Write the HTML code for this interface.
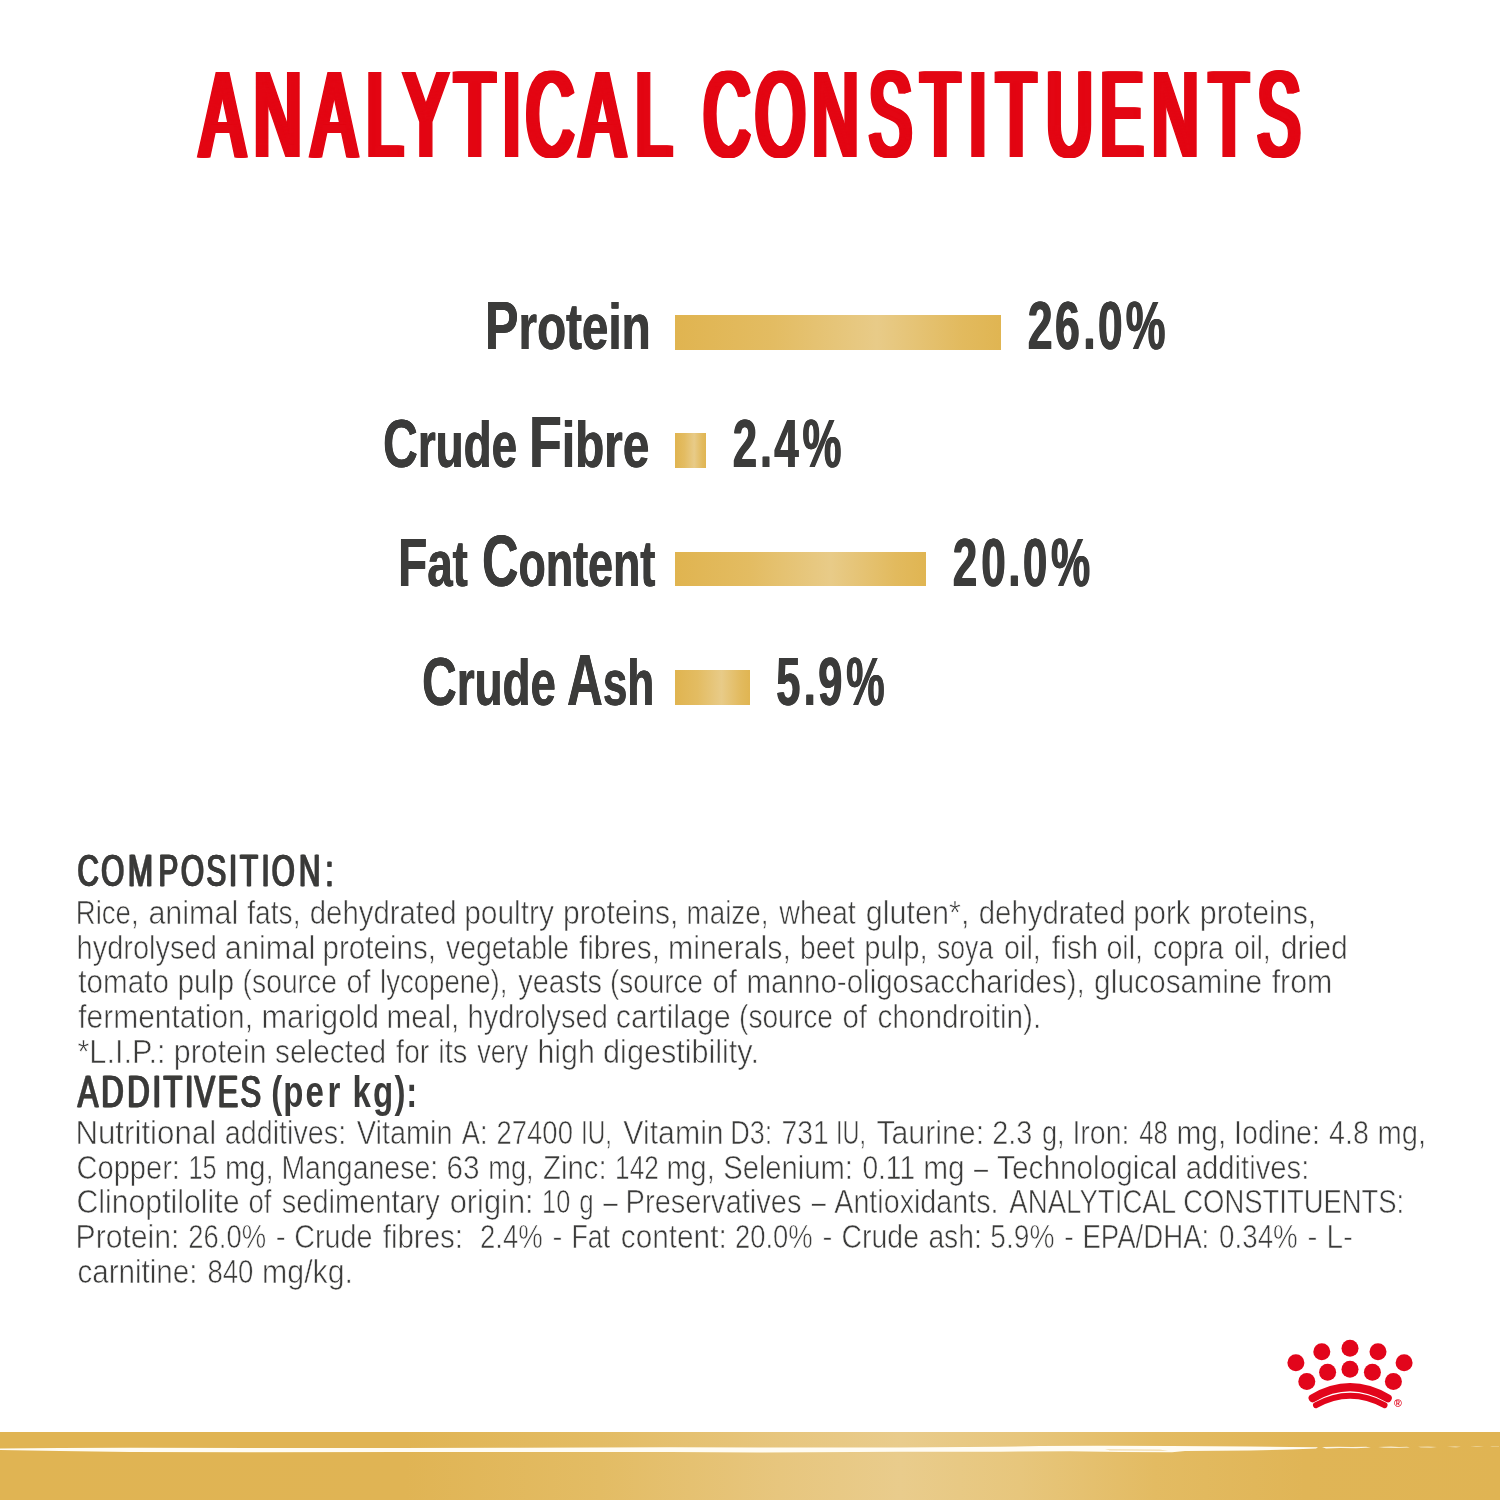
<!DOCTYPE html>
<html lang="en"><head><meta charset="utf-8"><title>Analytical Constituents</title>
<style>
html,body{margin:0;padding:0;background:#fff;overflow:hidden;}
body{width:1500px;height:1500px;position:relative;overflow:hidden;
 font-family:"Liberation Sans",sans-serif;}
.t{position:absolute;white-space:pre;line-height:1;transform-origin:0 0;margin:0;padding:0;}
.f1::first-letter{font-size:1.055em;}
.f2::first-letter{font-size:1.13em;}

.bar{position:absolute;background:linear-gradient(90deg,#e0b450 0%,#e3bc62 30%,#e8cb88 62%,#e2ba5e 88%,#e0b552 100%);}
.band{position:absolute;left:0;top:1431.6px;width:1500px;height:68.4px;
 background:linear-gradient(90deg,#e0b453 0%,#e0b454 27%,#e3bc64 40%,#e7c67e 52%,#e9cc8c 60%,#e7c67c 68%,#e3bb62 77%,#e0b556 87%,#e0b453 100%);}
svg{position:absolute;left:0;top:0;overflow:visible}
svg text{font-family:"Liberation Sans",sans-serif}
svg text.bd{font-size:32.4px;font-weight:400;fill:#3b3b3a;stroke:#fff;stroke-width:0.6px}

</style></head><body>
<header><svg width="1500" height="1500" viewBox="0 0 1500 1500">
<g transform="translate(0,156.3) scale(0.5471,1)"><text x="366.68 464.35 570.75 669.66 738.27 831.19 918.68 962.10 1061.23 1161.33" y="0" style="font-size:120.06px;font-weight:400;fill:#e30613;text-shadow:1.47px 0 0 #e30613,-1.47px 0 0 #e30613,2.93px 0 0 #e30613,-2.93px 0 0 #e30613,4.4px 0 0 #e30613,-4.4px 0 0 #e30613;stroke:#e30613;stroke-width:2.2px;">ANALYTICAL</text></g>
<g transform="translate(0,156.3) scale(0.5310,1)"><text x="1325.30 1423.06 1529.77 1636.92 1734.30 1824.86 1877.06 1970.78 2072.52 2170.02 2277.56 2368.32" y="0" style="font-size:120.06px;font-weight:400;fill:#e30613;text-shadow:1.47px 0 0 #e30613,-1.47px 0 0 #e30613,2.93px 0 0 #e30613,-2.93px 0 0 #e30613,4.4px 0 0 #e30613,-4.4px 0 0 #e30613;stroke:#e30613;stroke-width:2.2px;">CONSTITUENTS</text></g>
</svg></header>
<main>
<section class="chart">
<div class="row"><div class="t f1" style="left:484.64px;top:291.90px;font-size:64.39px;font-weight:700;color:#3b3b3a;transform:scaleX(0.7392);text-shadow:0.5px 0 0 #3b3b3a,-0.5px 0 0 #3b3b3a;">Protein</div><div class="bar" style="left:675px;top:315px;width:325.8px;height:34.6px"></div><svg width="1500" height="1500" viewBox="0 0 1500 1500"><g transform="translate(0,348.6) scale(0.6578,1)"><text x="1562.50 1603.96 1646.90 1669.02 1711.41" y="0" style="font-size:67.88px;font-weight:700;fill:#3b3b3a;text-shadow:0.6px 0 0 #3b3b3a,-0.6px 0 0 #3b3b3a;">26.0%</text></g></svg></div>
<div class="row"><div class="t f1" style="left:382.58px;top:410.40px;font-size:64.39px;font-weight:700;color:#3b3b3a;transform:scaleX(0.7114);text-shadow:0.5px 0 0 #3b3b3a,-0.5px 0 0 #3b3b3a;">Crude</div> <div class="t f2" style="left:529.44px;top:406.40px;font-size:64.39px;font-weight:700;color:#3b3b3a;transform:scaleX(0.7401);text-shadow:0.5px 0 0 #3b3b3a,-0.5px 0 0 #3b3b3a;">Fibre</div><div class="bar" style="left:675px;top:433.2px;width:30.9px;height:34.8px"></div><svg width="1500" height="1500" viewBox="0 0 1500 1500"><g transform="translate(0,467.2) scale(0.6454,1)"><text x="1135.36 1177.44 1199.55 1243.37" y="0" style="font-size:67.88px;font-weight:700;fill:#3b3b3a;text-shadow:0.6px 0 0 #3b3b3a,-0.6px 0 0 #3b3b3a;">2.4%</text></g></svg></div>
<div class="row"><div class="t f1" style="left:398.17px;top:528.60px;font-size:64.39px;font-weight:700;color:#3b3b3a;transform:scaleX(0.7064);text-shadow:0.5px 0 0 #3b3b3a,-0.5px 0 0 #3b3b3a;">Fat</div> <div class="t f2" style="left:481.91px;top:524.80px;font-size:64.39px;font-weight:700;color:#3b3b3a;transform:scaleX(0.6951);text-shadow:0.5px 0 0 #3b3b3a,-0.5px 0 0 #3b3b3a;">Content</div><div class="bar" style="left:675px;top:551.6px;width:250.9px;height:34.8px"></div><svg width="1500" height="1500" viewBox="0 0 1500 1500"><g transform="translate(0,585.6) scale(0.6497,1)"><text x="1466.48 1510.31 1551.83 1574.34 1617.79" y="0" style="font-size:67.88px;font-weight:700;fill:#3b3b3a;text-shadow:0.6px 0 0 #3b3b3a,-0.6px 0 0 #3b3b3a;">20.0%</text></g></svg></div>
<div class="row"><div class="t f1" style="left:422.18px;top:648.00px;font-size:64.39px;font-weight:700;color:#3b3b3a;transform:scaleX(0.7103);text-shadow:0.5px 0 0 #3b3b3a,-0.5px 0 0 #3b3b3a;">Crude</div> <div class="t f2" style="left:567.32px;top:644.00px;font-size:64.39px;font-weight:700;color:#3b3b3a;transform:scaleX(0.6829);text-shadow:0.5px 0 0 #3b3b3a,-0.5px 0 0 #3b3b3a;">Ash</div><div class="bar" style="left:675px;top:670px;width:74.9px;height:34.8px"></div><svg width="1500" height="1500" viewBox="0 0 1500 1500"><g transform="translate(0,704.5) scale(0.6383,1)"><text x="1216.17 1259.28 1281.84 1325.62" y="0" style="font-size:67.88px;font-weight:700;fill:#3b3b3a;text-shadow:0.6px 0 0 #3b3b3a,-0.6px 0 0 #3b3b3a;">5.9%</text></g></svg></div>
</section>
<section class="info"><svg width="1500" height="1500" viewBox="0 0 1500 1500">
<g transform="translate(0,886.4) scale(0.6840,1)"><text x="113.16 147.84 187.13 231.58 264.29 301.66 334.51 350.69 382.17 397.19 437.01 475.66" y="0" style="font-size:43.61px;font-weight:400;fill:#3b3b3a;text-shadow:0.8px 0 0 #3b3b3a,-0.8px 0 0 #3b3b3a;stroke:#3b3b3a;stroke-width:0.5px;">COMPOSITION:</text></g>
<text class="bd" y="923.6"><tspan x="75.7" textLength="62.9" lengthAdjust="spacingAndGlyphs">Rice,</tspan> <tspan x="148.4" textLength="89.9" lengthAdjust="spacingAndGlyphs">animal</tspan> <tspan x="247.3" textLength="53.2" lengthAdjust="spacingAndGlyphs">fats,</tspan> <tspan x="309.8" textLength="146.8" lengthAdjust="spacingAndGlyphs">dehydrated</tspan> <tspan x="464.2" textLength="89.8" lengthAdjust="spacingAndGlyphs">poultry</tspan> <tspan x="563.1" textLength="115.2" lengthAdjust="spacingAndGlyphs">proteins,</tspan> <tspan x="686.6" textLength="81.8" lengthAdjust="spacingAndGlyphs">maize,</tspan> <tspan x="779.3" textLength="76.5" lengthAdjust="spacingAndGlyphs">wheat</tspan> <tspan x="865.8" textLength="103.6" lengthAdjust="spacingAndGlyphs">gluten*,</tspan> <tspan x="978.8" textLength="146.8" lengthAdjust="spacingAndGlyphs">dehydrated</tspan> <tspan x="1133.2" textLength="57.2" lengthAdjust="spacingAndGlyphs">pork</tspan> <tspan x="1199.8" textLength="116.5" lengthAdjust="spacingAndGlyphs">proteins,</tspan></text>
<text class="bd" y="958.5"><tspan x="76.5" textLength="140.3" lengthAdjust="spacingAndGlyphs">hydrolysed</tspan> <tspan x="224.8" textLength="90.5" lengthAdjust="spacingAndGlyphs">animal</tspan> <tspan x="322.5" textLength="113.5" lengthAdjust="spacingAndGlyphs">proteins,</tspan> <tspan x="446.0" textLength="123.0" lengthAdjust="spacingAndGlyphs">vegetable</tspan> <tspan x="579.0" textLength="81.0" lengthAdjust="spacingAndGlyphs">fibres,</tspan> <tspan x="668.1" textLength="122.8" lengthAdjust="spacingAndGlyphs">minerals,</tspan> <tspan x="800.0" textLength="54.8" lengthAdjust="spacingAndGlyphs">beet</tspan> <tspan x="864.2" textLength="63.5" lengthAdjust="spacingAndGlyphs">pulp,</tspan> <tspan x="937.0" textLength="56.2" lengthAdjust="spacingAndGlyphs">soya</tspan> <tspan x="1004.1" textLength="36.7" lengthAdjust="spacingAndGlyphs">oil,</tspan> <tspan x="1051.7" textLength="46.5" lengthAdjust="spacingAndGlyphs">fish</tspan> <tspan x="1106.4" textLength="36.7" lengthAdjust="spacingAndGlyphs">oil,</tspan> <tspan x="1153.1" textLength="70.6" lengthAdjust="spacingAndGlyphs">copra</tspan> <tspan x="1234.1" textLength="36.7" lengthAdjust="spacingAndGlyphs">oil,</tspan> <tspan x="1280.8" textLength="67.1" lengthAdjust="spacingAndGlyphs">dried</tspan></text>
<text class="bd" y="993.4"><tspan x="78.3" textLength="90.6" lengthAdjust="spacingAndGlyphs">tomato</tspan> <tspan x="177.4" textLength="56.7" lengthAdjust="spacingAndGlyphs">pulp</tspan> <tspan x="242.6" textLength="94.3" lengthAdjust="spacingAndGlyphs">(source</tspan> <tspan x="346.4" textLength="24.0" lengthAdjust="spacingAndGlyphs">of</tspan> <tspan x="380.0" textLength="127.4" lengthAdjust="spacingAndGlyphs">lycopene),</tspan> <tspan x="518.3" textLength="83.6" lengthAdjust="spacingAndGlyphs">yeasts</tspan> <tspan x="610.0" textLength="92.9" lengthAdjust="spacingAndGlyphs">(source</tspan> <tspan x="712.4" textLength="24.6" lengthAdjust="spacingAndGlyphs">of</tspan> <tspan x="746.5" textLength="338.2" lengthAdjust="spacingAndGlyphs">manno-oligosaccharides),</tspan> <tspan x="1094.1" textLength="168.0" lengthAdjust="spacingAndGlyphs">glucosamine</tspan> <tspan x="1271.7" textLength="60.7" lengthAdjust="spacingAndGlyphs">from</tspan></text>
<text class="bd" y="1028.3"><tspan x="78.3" textLength="174.8" lengthAdjust="spacingAndGlyphs">fermentation,</tspan> <tspan x="261.4" textLength="117.7" lengthAdjust="spacingAndGlyphs">marigold</tspan> <tspan x="386.5" textLength="72.8" lengthAdjust="spacingAndGlyphs">meal,</tspan> <tspan x="467.5" textLength="140.3" lengthAdjust="spacingAndGlyphs">hydrolysed</tspan> <tspan x="615.8" textLength="115.0" lengthAdjust="spacingAndGlyphs">cartilage</tspan> <tspan x="739.0" textLength="93.9" lengthAdjust="spacingAndGlyphs">(source</tspan> <tspan x="842.4" textLength="24.6" lengthAdjust="spacingAndGlyphs">of</tspan> <tspan x="877.4" textLength="163.9" lengthAdjust="spacingAndGlyphs">chondroitin).</tspan></text>
<text class="bd" y="1063.2"><tspan x="77.4" textLength="88.2" lengthAdjust="spacingAndGlyphs">*L.I.P.:</tspan> <tspan x="173.8" textLength="92.8" lengthAdjust="spacingAndGlyphs">protein</tspan> <tspan x="275.1" textLength="111.1" lengthAdjust="spacingAndGlyphs">selected</tspan> <tspan x="396.0" textLength="33.4" lengthAdjust="spacingAndGlyphs">for</tspan> <tspan x="438.2" textLength="29.1" lengthAdjust="spacingAndGlyphs">its</tspan> <tspan x="477.3" textLength="50.9" lengthAdjust="spacingAndGlyphs">very</tspan> <tspan x="537.4" textLength="57.4" lengthAdjust="spacingAndGlyphs">high</tspan> <tspan x="603.1" textLength="155.8" lengthAdjust="spacingAndGlyphs">digestibility.</tspan></text>
<g transform="translate(0,1107) scale(0.7125,1)"><text x="109.00 142.09 178.58 214.06 229.30 259.53 272.72 305.40 337.28" y="0" style="font-size:43.61px;font-weight:400;fill:#3b3b3a;text-shadow:0.8px 0 0 #3b3b3a,-0.8px 0 0 #3b3b3a;stroke:#3b3b3a;stroke-width:0.5px;">ADDITIVES</text></g>
<g transform="translate(0,1107) scale(0.7569,1)"><text x="358.43 374.23 403.54 432.70 437.70 465.70 492.95 521.09 536.60" y="0" style="font-size:43.61px;font-weight:700;fill:#3b3b3a;">(per kg):</text></g>
<text class="bd" y="1143.6"><tspan x="75.4" textLength="140.8" lengthAdjust="spacingAndGlyphs">Nutritional</tspan> <tspan x="224.8" textLength="121.4" lengthAdjust="spacingAndGlyphs">additives:</tspan> <tspan x="356.7" textLength="95.9" lengthAdjust="spacingAndGlyphs">Vitamin</tspan> <tspan x="461.7" textLength="25.8" lengthAdjust="spacingAndGlyphs">A:</tspan> <tspan x="496.6" textLength="76.3" lengthAdjust="spacingAndGlyphs">27400</tspan> <tspan x="581.0" textLength="31.0" lengthAdjust="spacingAndGlyphs">IU,</tspan> <tspan x="623.3" textLength="100.4" lengthAdjust="spacingAndGlyphs">Vitamin</tspan> <tspan x="730.2" textLength="42.1" lengthAdjust="spacingAndGlyphs">D3:</tspan> <tspan x="781.6" textLength="47.2" lengthAdjust="spacingAndGlyphs">731</tspan> <tspan x="836.1" textLength="29.9" lengthAdjust="spacingAndGlyphs">IU,</tspan> <tspan x="876.4" textLength="107.7" lengthAdjust="spacingAndGlyphs">Taurine:</tspan> <tspan x="992.2" textLength="40.1" lengthAdjust="spacingAndGlyphs">2.3</tspan> <tspan x="1041.9" textLength="22.7" lengthAdjust="spacingAndGlyphs">g,</tspan> <tspan x="1072.4" textLength="57.1" lengthAdjust="spacingAndGlyphs">Iron:</tspan> <tspan x="1139.2" textLength="28.6" lengthAdjust="spacingAndGlyphs">48</tspan> <tspan x="1176.4" textLength="50.0" lengthAdjust="spacingAndGlyphs">mg,</tspan> <tspan x="1234.1" textLength="85.8" lengthAdjust="spacingAndGlyphs">Iodine:</tspan> <tspan x="1329.1" textLength="39.8" lengthAdjust="spacingAndGlyphs">4.8</tspan> <tspan x="1377.5" textLength="48.5" lengthAdjust="spacingAndGlyphs">mg,</tspan></text>
<text class="bd" y="1178.5"><tspan x="76.5" textLength="103.4" lengthAdjust="spacingAndGlyphs">Copper:</tspan> <tspan x="188.4" textLength="28.1" lengthAdjust="spacingAndGlyphs">15</tspan> <tspan x="224.9" textLength="48.8" lengthAdjust="spacingAndGlyphs">mg,</tspan> <tspan x="281.4" textLength="156.8" lengthAdjust="spacingAndGlyphs">Manganese:</tspan> <tspan x="446.5" textLength="33.1" lengthAdjust="spacingAndGlyphs">63</tspan> <tspan x="488.3" textLength="45.2" lengthAdjust="spacingAndGlyphs">mg,</tspan> <tspan x="543.1" textLength="63.5" lengthAdjust="spacingAndGlyphs">Zinc:</tspan> <tspan x="615.1" textLength="43.6" lengthAdjust="spacingAndGlyphs">142</tspan> <tspan x="666.5" textLength="48.2" lengthAdjust="spacingAndGlyphs">mg,</tspan> <tspan x="723.2" textLength="129.8" lengthAdjust="spacingAndGlyphs">Selenium:</tspan> <tspan x="862.4" textLength="52.7" lengthAdjust="spacingAndGlyphs">0.11</tspan> <tspan x="923.2" textLength="41.4" lengthAdjust="spacingAndGlyphs">mg</tspan> <tspan x="974.0" textLength="14.1" lengthAdjust="spacingAndGlyphs">–</tspan> <tspan x="997.1" textLength="180.4" lengthAdjust="spacingAndGlyphs">Technological</tspan> <tspan x="1185.8" textLength="123.5" lengthAdjust="spacingAndGlyphs">additives:</tspan></text>
<text class="bd" y="1213.4"><tspan x="76.4" textLength="163.1" lengthAdjust="spacingAndGlyphs">Clinoptilolite</tspan> <tspan x="248.5" textLength="23.0" lengthAdjust="spacingAndGlyphs">of</tspan> <tspan x="281.8" textLength="158.0" lengthAdjust="spacingAndGlyphs">sedimentary</tspan> <tspan x="449.7" textLength="84.0" lengthAdjust="spacingAndGlyphs">origin:</tspan> <tspan x="542.1" textLength="28.1" lengthAdjust="spacingAndGlyphs">10</tspan> <tspan x="579.2" textLength="14.4" lengthAdjust="spacingAndGlyphs">g</tspan> <tspan x="603.3" textLength="14.5" lengthAdjust="spacingAndGlyphs">–</tspan> <tspan x="625.6" textLength="175.9" lengthAdjust="spacingAndGlyphs">Preservatives</tspan> <tspan x="811.7" textLength="14.1" lengthAdjust="spacingAndGlyphs">–</tspan> <tspan x="834.3" textLength="164.2" lengthAdjust="spacingAndGlyphs">Antioxidants.</tspan> <tspan x="1009.3" textLength="165.8" lengthAdjust="spacingAndGlyphs">ANALYTICAL</tspan> <tspan x="1183.3" textLength="220.9" lengthAdjust="spacingAndGlyphs">CONSTITUENTS:</tspan></text>
<text class="bd" y="1248.3"><tspan x="75.5" textLength="104.0" lengthAdjust="spacingAndGlyphs">Protein:</tspan> <tspan x="188.3" textLength="77.8" lengthAdjust="spacingAndGlyphs">26.0%</tspan> <tspan x="275.8" textLength="9.9" lengthAdjust="spacingAndGlyphs">-</tspan> <tspan x="294.2" textLength="78.3" lengthAdjust="spacingAndGlyphs">Crude</tspan> <tspan x="382.7" textLength="80.4" lengthAdjust="spacingAndGlyphs">fibres:</tspan> <tspan x="480.0" textLength="62.7" lengthAdjust="spacingAndGlyphs">2.4%</tspan> <tspan x="552.4" textLength="9.9" lengthAdjust="spacingAndGlyphs">-</tspan> <tspan x="571.5" textLength="38.7" lengthAdjust="spacingAndGlyphs">Fat</tspan> <tspan x="620.8" textLength="105.9" lengthAdjust="spacingAndGlyphs">content:</tspan> <tspan x="735.0" textLength="77.7" lengthAdjust="spacingAndGlyphs">20.0%</tspan> <tspan x="822.4" textLength="9.9" lengthAdjust="spacingAndGlyphs">-</tspan> <tspan x="841.5" textLength="77.5" lengthAdjust="spacingAndGlyphs">Crude</tspan> <tspan x="928.4" textLength="53.4" lengthAdjust="spacingAndGlyphs">ash:</tspan> <tspan x="990.3" textLength="64.2" lengthAdjust="spacingAndGlyphs">5.9%</tspan> <tspan x="1064.1" textLength="9.9" lengthAdjust="spacingAndGlyphs">-</tspan> <tspan x="1082.4" textLength="126.9" lengthAdjust="spacingAndGlyphs">EPA/DHA:</tspan> <tspan x="1219.1" textLength="78.6" lengthAdjust="spacingAndGlyphs">0.34%</tspan> <tspan x="1307.4" textLength="9.9" lengthAdjust="spacingAndGlyphs">-</tspan> <tspan x="1326.5" textLength="26.5" lengthAdjust="spacingAndGlyphs">L-</tspan></text>
<text class="bd" y="1283.2"><tspan x="77.4" textLength="120.1" lengthAdjust="spacingAndGlyphs">carnitine:</tspan> <tspan x="207.4" textLength="46.1" lengthAdjust="spacingAndGlyphs">840</tspan> <tspan x="262.1" textLength="90.9" lengthAdjust="spacingAndGlyphs">mg/kg.</tspan></text>
</svg></section>
</main>
<footer>
<div class="band"></div>
<svg width="1500" height="1500" viewBox="0 0 1500 1500">
 <g fill="#fffcf3">
  <path d="M0 1448.6 L60 1448 L130 1447.7 L250 1447.9 L400 1448.1 L520 1447.7 L670 1447.3 L760 1447.6 L900 1447.4 L1000 1446.7 L1040 1446 L1100 1445.8 L1170 1446 L1250 1446.5 L1290 1446.9 L1318 1447.2 L1316 1448.6 L1290 1449.4 L1250 1450.5 L1185 1451 L1172 1452.2 L1120 1452.1 L1070 1451.2 L1000 1451.7 L900 1451.7 L760 1452.4 L670 1451.9 L520 1452.1 L400 1451.9 L250 1452.3 L130 1452.1 L60 1450.9 L0 1449.9 Z"/>
  <path d="M1322 1447 L1338 1446.7 L1352 1447.1 L1366 1446.8 L1371 1447.5 L1356 1448.2 L1340 1448 L1326 1448.4 Z" opacity=".9"/>
  <path d="M1378 1447 L1391 1446.5 L1399 1447 L1407 1446.7 L1410 1447.5 L1396 1448 L1384 1447.8 Z" opacity=".75"/>
  <path d="M1418 1446.8 L1428 1446.4 L1437 1446.9 L1431 1447.7 L1421 1447.6 Z" opacity=".6"/>
  <path d="M1447 1446.8 L1455 1446.3 L1461 1446.7 L1456 1447.4 Z" opacity=".5"/>
  <path d="M1470 1446.3 L1479 1446 L1484 1446.5 L1476 1447 Z" opacity=".4"/>
  <path d="M1490 1446.2 L1499 1446 L1499 1446.7 L1492 1446.9 Z" opacity=".35"/>
 </g>
 <g fill="#e3b85c">
  <path d="M1105 1449.4 L1160 1449.8 L1168 1450.6 L1110 1450.2 Z" opacity=".8"/>
 </g>
 <g fill="#e2051b">
  <circle cx="1295.9" cy="1362.7" r="8.5"/>
  <circle cx="1321.8" cy="1351.7" r="8.5"/>
  <circle cx="1350" cy="1348.2" r="8.5"/>
  <circle cx="1378" cy="1351.7" r="8.5"/>
  <circle cx="1404.1" cy="1362.7" r="8.5"/>
  <circle cx="1306.8" cy="1381.6" r="8.5"/>
  <circle cx="1327.6" cy="1372.3" r="8.5"/>
  <circle cx="1350" cy="1369.2" r="8.5"/>
  <circle cx="1372.4" cy="1372.3" r="8.5"/>
  <circle cx="1393.4" cy="1381.6" r="8.5"/>
 </g>
 <g fill="none" stroke="#e2051b" stroke-linecap="round">
  <path d="M1312.6 1398.2 Q1350 1376 1387.8 1398.2" stroke-width="8"/>
  <path d="M1316 1405.2 Q1350 1386.4 1384.5 1405.2" stroke-width="6"/>
 </g>
 <text x="1397.8" y="1407.2" font-size="10.6" font-weight="700" text-anchor="middle" fill="#e2051b">®</text>
</svg>
</footer>
</body></html>
